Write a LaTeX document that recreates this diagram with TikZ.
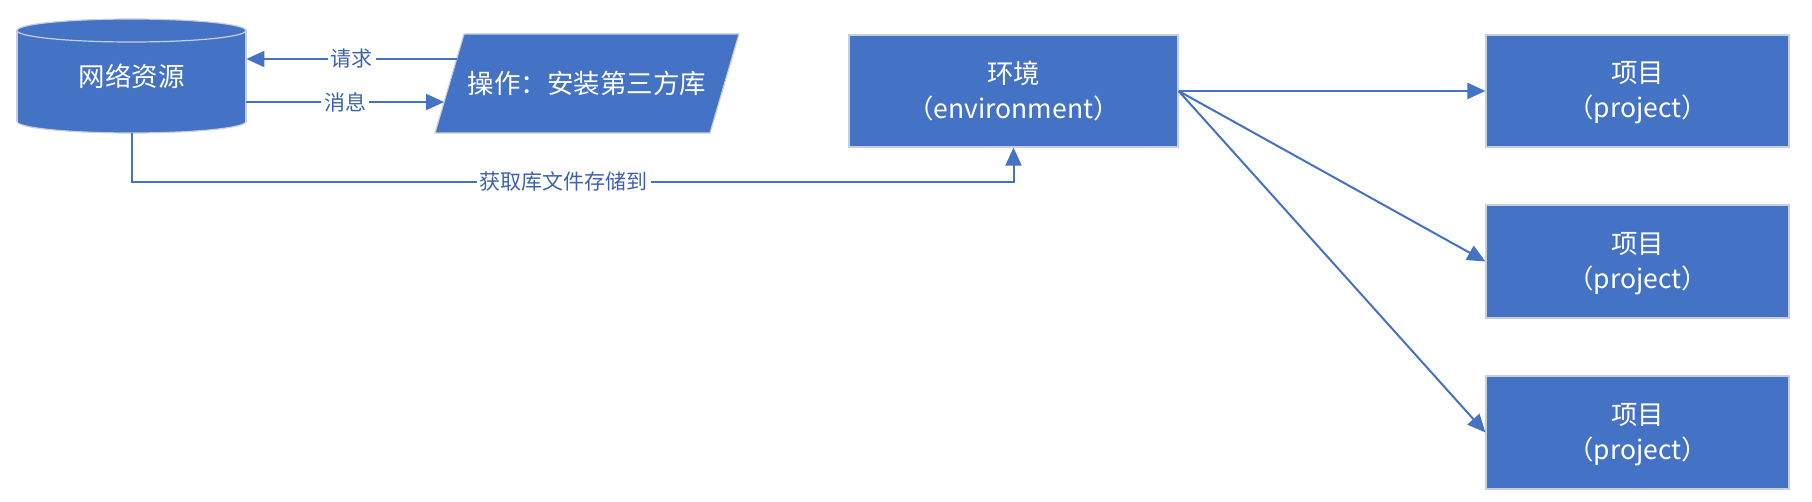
\documentclass[tikz,border=0pt]{standalone}
\usepackage{fontspec}
\setmainfont{Noto Sans CJK SC}
\usetikzlibrary{arrows.meta,calc}
\definecolor{fillblue}{HTML}{4472C4}
\definecolor{edgegray}{HTML}{C8CFDA}
\definecolor{lblblue}{HTML}{3E63AC}
\begin{document}
\begin{tikzpicture}[x=0.5pt,y=-0.5pt,
  shp/.style={fill=fillblue, draw=edgegray, line width=0.6pt},
  box/.style={shp, rectangle, inner sep=0pt, text=white, align=center, font=\fontsize{13.25}{17.5}\selectfont},
  bigtext/.style={inner sep=0pt, text=white, font=\fontsize{13.25}{17.5}\selectfont},
  conn/.style={draw=fillblue, line width=1pt, -{Triangle[length=9pt,width=8pt]}},
  lbl/.style={fill=white, text=lblblue, inner sep=1.5pt, font=\fontsize{10.5}{12}\selectfont}]
\useasboundingbox (0,0) rectangle (1812,502);

% cylinder
\filldraw[shp] (131.5,121.5) ellipse [x radius=114.5, y radius=11.5];
\fill[fillblue] (17,30.5) rectangle (246,121.5);
\draw[edgegray, line width=0.6pt] (17,30.5) -- (17,121.5) (246,30.5) -- (246,121.5);
\filldraw[shp] (131.5,30.5) ellipse [x radius=114.5, y radius=11.5];
\node[bigtext, minimum width=114.5pt, minimum height=57pt] (net) at (131.5,76) {网络资源};

% parallelogram
\coordinate (opTL) at (464,34);
\coordinate (opTR) at (739,34);
\coordinate (opBR) at (710,133);
\coordinate (opBL) at (435,133);
\filldraw[shp] (opTL) -- (opTR) -- (opBR) -- (opBL) -- cycle;
\node[bigtext] (op) at (587,83.5) {操作：安装第三方库};

% boxes
\node[box, minimum width=164.5pt, minimum height=56pt] (env) at (1013.5,91) {环境\\（environment）};
\node[box, minimum width=151.5pt, minimum height=56pt] (p1) at (1637.5,91) {项目\\\smash{（project）}\vphantom{（）}};
\node[box, minimum width=151.5pt, minimum height=56.5pt] (p2) at (1637.5,261.5) {项目\\\smash{（project）}\vphantom{（）}};
\node[box, minimum width=151.5pt, minimum height=56.5pt] (p3) at (1637.5,432.5) {项目\\\smash{（project）}\vphantom{（）}};

% connectors
\coordinate (rq) at ($(opTL)!0.2525!(opBL)$);
\coordinate (ms) at ($(opTL)!0.687!(opBL)$);
\draw[conn] (rq) -- node[lbl]{请求} (net.east |- rq);
\draw[conn] (net.east |- ms) -- node[lbl]{消息} (ms);
\coordinate (bend) at (131.5,182);
\draw[conn] (net.south) -- (bend) -| node[lbl,pos=0.245]{获取库文件存储到} (env.south);
\draw[conn] (env.east) -- (p1.west);
\draw[conn] (env.east) -- (p2.west);
\draw[conn] (env.east) -- (p3.west);
\end{tikzpicture}
\end{document}
